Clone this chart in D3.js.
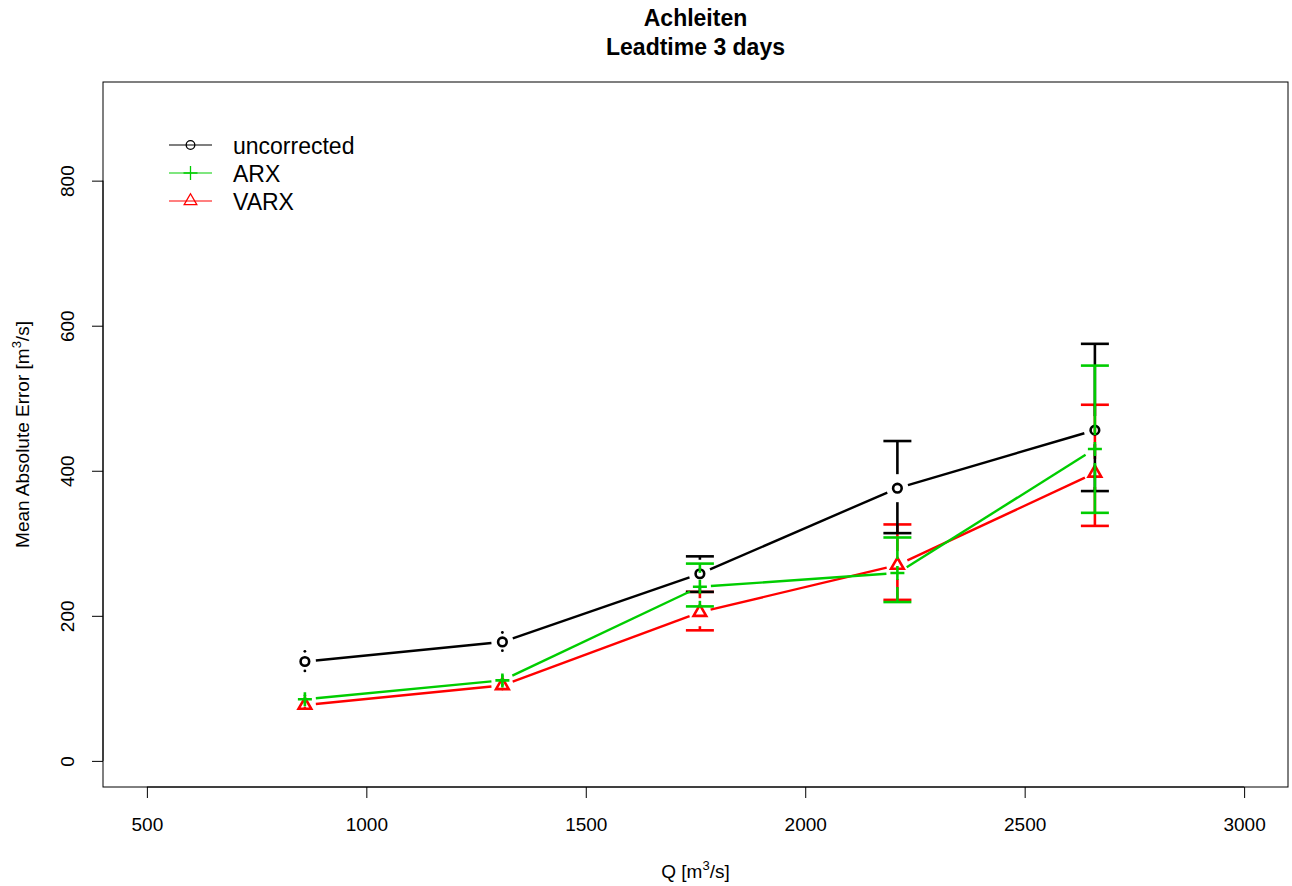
<!DOCTYPE html>
<html>
<head>
<meta charset="utf-8">
<style>
body { margin: 0; background: #fff; }
text { font-family: "Liberation Sans", Arial, Helvetica, sans-serif; fill: #000; }
</style>
</head>
<body></body>
<script src="https://d3js.org/d3.v7.min.js"></script>
<script>

// discharge classes (x) and mean absolute error with interval limits
var qValues = [860, 1310, 1760, 2210, 2660];

var maeUncorrected  = [137, 164, 258, 376, 456];
var lowUncorrected  = [124, 152, 233, 314, 372];
var highUncorrected = [151, 177, 282, 441, 575];

var maeARX  = [85, 111, 240, 259, 430];
var lowARX  = [80, 105, 213, 219, 342];
var highARX = [90, 117, 272, 308, 545];

var maeVARX  = [77, 104, 205, 270, 397];
var lowVARX  = [73, 99, 180, 222, 324];
var highVARX = [82, 109, 233, 326, 491];

var xTicks = [500, 1000, 1500, 2000, 2500, 3000];
var yTicks = [0, 200, 400, 600, 800];

var seriesNames = ["uncorrected", "ARX", "VARX"];
var seriesColors = ["#000000", "#00cd00", "#ff0000"];
var seriesShapes = ["circle", "plus", "triangle"];

var W = 1292, H = 886;
var box = { left: 103, right: 1288, top: 82, bottom: 787 };

// R style 4% axis extension
var xlim = [500, 3000], ylim = [0, 900];
var xs = d3.scaleLinear()
	.domain([xlim[0] - 0.04 * (xlim[1] - xlim[0]), xlim[1] + 0.04 * (xlim[1] - xlim[0])])
	.range([box.left, box.right]);
var ys = d3.scaleLinear()
	.domain([ylim[0] - 0.04 * (ylim[1] - ylim[0]), ylim[1] + 0.04 * (ylim[1] - ylim[0])])
	.range([box.bottom, box.top]);

var svg = d3.select("body").append("svg")
	.attr("width", W)
	.attr("height", H);

// titles
svg.append("text")
	.attr("x", (box.left + box.right) / 2).attr("y", 26)
	.attr("text-anchor", "middle").attr("font-size", 23).attr("font-weight", "bold")
	.text("Achleiten");
svg.append("text")
	.attr("x", (box.left + box.right) / 2).attr("y", 55)
	.attr("text-anchor", "middle").attr("font-size", 23).attr("font-weight", "bold")
	.text("Leadtime 3 days");

// axes
svg.append("g")
	.attr("transform", "translate(0," + box.bottom + ")")
	.call(d3.axisBottom(xs).tickValues(xTicks).tickSize(11).tickPadding(20).tickFormat(d3.format("d")))
	.call(g => g.select(".domain").attr("d", "M" + xs(xTicks[0]) + ",0H" + xs(xTicks[xTicks.length - 1])))
	.call(g => g.selectAll("text").attr("font-size", 19).attr("font-family", null).attr("dy", "0.71em"));

var yAxis = svg.append("g")
	.attr("transform", "translate(" + box.left + ",0)")
	.call(d3.axisLeft(ys).tickValues(yTicks).tickSize(11).tickFormat(d3.format("d")))
	.call(g => g.select(".domain").attr("d", "M0," + ys(yTicks[0]) + "V" + ys(yTicks[yTicks.length - 1])));
yAxis.selectAll(".tick text")
	.attr("x", null).attr("dy", null)
	.attr("font-size", 19).attr("font-family", null)
	.attr("text-anchor", "middle")
	.attr("transform", "translate(-29,0) rotate(-90)");
svg.selectAll(".domain, .tick line").attr("stroke", "#000");

// plot frame
svg.append("rect")
	.attr("x", box.left).attr("y", box.top)
	.attr("width", box.right - box.left).attr("height", box.bottom - box.top)
	.attr("fill", "none").attr("stroke", "#000").attr("stroke-width", 1);

// axis titles
var xt = svg.append("text")
	.attr("x", (box.left + box.right) / 2).attr("y", 878)
	.attr("text-anchor", "middle").attr("font-size", 19);
xt.append("tspan").text("Q [m");
xt.append("tspan").attr("font-size", 13).attr("dy", -8).text("3");
xt.append("tspan").attr("dy", 8).text("/s]");

var yt = svg.append("text")
	.attr("transform", "translate(29," + (box.top + box.bottom) / 2 + ") rotate(-90)")
	.attr("text-anchor", "middle").attr("font-size", 19);
yt.append("tspan").text("Mean Absolute Error [m");
yt.append("tspan").attr("font-size", 13).attr("dy", -8).text("3");
yt.append("tspan").attr("dy", 8).text("/s]");

function marker(g, shape, cx, cy, color, lw, s) {
	if (shape == "circle") {
		g.append("circle").attr("cx", cx).attr("cy", cy).attr("r", 4.3 * s)
			.attr("fill", "none").attr("stroke", color).attr("stroke-width", lw);
	} else if (shape == "plus") {
		g.append("path")
			.attr("d", "M" + (cx - 7 * s) + "," + cy + "H" + (cx + 7 * s) + "M" + cx + "," + (cy - 7 * s) + "V" + (cy + 7 * s))
			.attr("fill", "none").attr("stroke", color).attr("stroke-width", lw);
	} else {
		var r = 7.3 * s, hw = r * Math.sqrt(3) / 2;
		g.append("path")
			.attr("d", "M" + cx + "," + (cy - r) + "L" + (cx + hw) + "," + (cy + r / 2) + "L" + (cx - hw) + "," + (cy + r / 2) + "Z")
			.attr("fill", "none").attr("stroke", color).attr("stroke-width", lw).attr("stroke-linejoin", "miter");
	}
}

var series = [
	{ mae: maeUncorrected, lo: lowUncorrected, hi: highUncorrected },
	{ mae: maeARX, lo: lowARX, hi: highARX },
	{ mae: maeVARX, lo: lowVARX, hi: highVARX }
];

var barGap = 14, lineGap = 11, capHalf = 14;
var drawOrder = [2, 0, 1];

drawOrder.forEach(k => {
	var s = series[k], col = seriesColors[k];
	var g = svg.append("g");

	// error bars with a gap around the point (plotCI style)
	qValues.forEach((q, i) => {
		var px = xs(q), py = ys(s.mae[i]);
		[s.hi[i], s.lo[i]].forEach(v => {
			var end = ys(v), dir = end < py ? -1 : 1;
			var start = py + dir * barGap;
			if ((end - start) * dir <= 0) {
				g.append("circle").attr("cx", px).attr("cy", end).attr("r", 1.4).attr("fill", col);
			} else {
				g.append("line").attr("x1", px).attr("x2", px).attr("y1", start).attr("y2", end)
					.attr("stroke", col).attr("stroke-width", 2.6);
				g.append("line").attr("x1", px - capHalf).attr("x2", px + capHalf).attr("y1", end).attr("y2", end)
					.attr("stroke", col).attr("stroke-width", 2.6);
			}
		});
	});

	// type = "b" lines
	for (var i = 0; i < qValues.length - 1; i++) {
		var x1 = xs(qValues[i]), y1 = ys(s.mae[i]), x2 = xs(qValues[i + 1]), y2 = ys(s.mae[i + 1]);
		var len = Math.hypot(x2 - x1, y2 - y1), ux = (x2 - x1) / len, uy = (y2 - y1) / len;
		g.append("line")
			.attr("x1", x1 + ux * lineGap).attr("y1", y1 + uy * lineGap)
			.attr("x2", x2 - ux * lineGap).attr("y2", y2 - uy * lineGap)
			.attr("stroke", col).attr("stroke-width", 2.4);
	}

	qValues.forEach((q, i) => marker(g, seriesShapes[k], xs(q), ys(s.mae[i]), col, 2.6, 1));
});

// legend
var legend = svg.append("g");
seriesNames.forEach((name, i) => {
	var ly = 145 + i * 28;
	legend.append("line").attr("x1", 169).attr("x2", 212).attr("y1", ly).attr("y2", ly)
		.attr("stroke", seriesColors[i]).attr("stroke-width", 1.2);
	marker(legend, seriesShapes[i], 190.5, ly, seriesColors[i], 1.3, 1);
	legend.append("text").attr("x", 233).attr("y", ly + 8.5).attr("font-size", 23).text(name);
});

</script>
</html>
